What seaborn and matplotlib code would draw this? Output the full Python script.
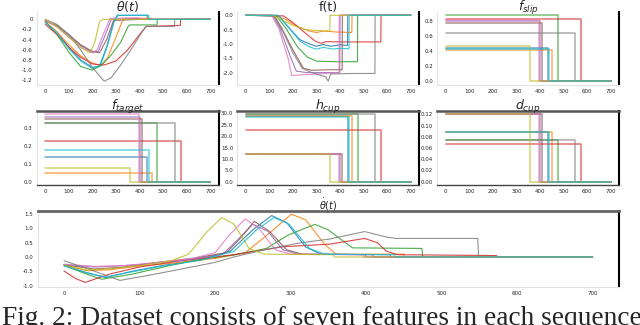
import matplotlib
matplotlib.use("Agg")
import pandas as pd
import matplotlib.pyplot as plt
import seaborn as sns

# sequence colours, in plotting order (tab10)
seq_names = ["blue", "orange", "green", "red", "purple",
             "brown", "pink", "gray", "olive", "cyan"]
# last time step of each sequence, padded with zeros up to 700
seq_end = [433, 451, 475, 574, 400, 410, 397, 549, 358, 439]
pad_end = 700

# constant features of each sequence
f_slip = [0.44, 0.41, 0.87, 0.82, 0.79, 0.77, 0.81, 0.63, 0.47, 0.43]
f_target = [0.135, 0.049, 0.324, 0.224, 0.36, 0.349, 0.373, 0.327, 0.073, 0.176]
h_cup = [28.7, 29.0, 29.6, 22.7, 12.0, 12.0, 12.0, 29.6, 12.0, 28.6]
d_cup = [0.088, 0.088, 0.075, 0.067, 0.12, 0.12, 0.12, 0.075, 0.12, 0.088]

# theta(t), (time, value)
theta = {
    "blue": [(0, -0.05), (50, -0.25), (100, -0.55), (150, -0.8), (200, -0.95), (230, -0.92),
             (260, -0.55), (290, -0.05), (305, 0.08), (432, 0.08)],
    "orange": [(0, -0.05), (50, -0.25), (100, -0.5), (150, -0.72), (200, -0.86), (235, -0.92),
               (265, -0.75), (300, -0.35), (325, -0.05), (340, 0.02), (450, 0.02)],
    "green": [(0, -0.05), (50, -0.3), (100, -0.65), (150, -0.93), (200, -1.0), (240, -0.9),
              (280, -0.7), (320, -0.45), (350, -0.15), (360, -0.11), (474, -0.11)],
    "red": [(0, -0.1), (50, -0.3), (100, -0.55), (150, -0.75), (200, -0.88), (250, -0.9),
            (300, -0.82), (350, -0.6), (400, -0.3), (428, -0.14), (573, -0.12)],
    "purple": [(0, -0.03), (50, -0.14), (100, -0.33), (150, -0.52), (200, -0.65), (225, -0.63),
               (255, -0.3), (280, 0.0), (399, 0.02)],
    "brown": [(0, -0.03), (50, -0.12), (100, -0.3), (150, -0.5), (200, -0.63), (230, -0.66),
              (260, -0.4), (290, -0.02), (409, 0.0)],
    "pink": [(0, -0.02), (50, -0.15), (100, -0.35), (150, -0.55), (200, -0.66), (220, -0.6),
             (250, -0.25), (275, 0.02), (396, 0.03)],
    "gray": [(0, 0.0), (50, -0.1), (100, -0.3), (150, -0.6), (200, -0.95), (250, -1.22),
             (280, -1.15), (320, -0.9), (370, -0.55), (410, -0.25), (428, -0.14), (548, -0.14)],
    "olive": [(0, 0.0), (50, -0.15), (100, -0.35), (150, -0.55), (190, -0.66), (210, -0.45),
              (230, -0.05), (245, 0.0), (357, 0.0)],
    "cyan": [(0, -0.06), (50, -0.28), (100, -0.58), (150, -0.82), (200, -0.97), (235, -0.9),
             (265, -0.5), (295, 0.0), (310, 0.08), (438, 0.08)],
}

# f(t)
force = {
    "blue": [(0, 0), (140, -0.02), (180, -0.4), (230, -0.85), (270, -1.0), (300, -1.08),
             (330, -1.02), (360, -1.08), (400, -1.03), (432, -1.05)],
    "orange": [(0, 0), (130, 0), (170, -0.15), (220, -0.4), (270, -0.55), (300, -0.6),
               (330, -0.55), (380, -0.58), (450, -0.6)],
    "green": [(0, 0), (130, -0.02), (170, -0.45), (220, -1.1), (260, -1.45), (300, -1.6),
              (380, -1.62), (474, -1.62)],
    "red": [(0, 0), (160, -0.02), (200, -0.25), (250, -0.6), (295, -0.9), (320, -0.98),
            (340, -0.92), (400, -0.93), (500, -0.93), (573, -0.93)],
    "purple": [(0, 0), (115, 0), (145, -0.45), (190, -1.45), (215, -1.95), (260, -2.0), (399, -2.0)],
    "brown": [(0, 0), (120, 0), (150, -0.4), (200, -1.2), (245, -1.85), (280, -1.92),
              (350, -1.9), (409, -1.9)],
    "pink": [(0, 0), (110, 0), (140, -0.45), (180, -1.5), (195, -2.1), (230, -2.08),
             (300, -2.05), (396, -2.0)],
    "gray": [(0, 0), (120, -0.02), (160, -0.6), (200, -1.3), (240, -1.85), (280, -2.0),
             (340, -2.15), (350, -2.3), (360, -2.05), (450, -2.03), (548, -2.03)],
    "olive": [(0, 0), (115, 0), (150, -0.15), (200, -0.35), (255, -0.5), (300, -0.53), (357, -0.55)],
    "cyan": [(0, 0), (140, 0), (175, -0.35), (230, -0.9), (270, -1.1), (300, -1.18),
             (330, -1.12), (370, -1.18), (400, -1.15), (438, -1.17)],
}

# theta_dot(t)
theta_dot = {
    "blue": [(0, -0.3), (30, -0.55), (55, -0.72), (90, -0.5), (130, -0.3), (180, -0.1), (220, 0.2),
             (250, 0.95), (275, 1.45), (295, 1.2), (320, 0.35), (340, 0.1), (432, 0.08)],
    "orange": [(0, -0.28), (30, -0.48), (60, -0.45), (100, -0.32), (150, -0.2), (200, -0.05),
               (240, 0.15), (275, 0.9), (301, 1.5), (320, 1.3), (345, 0.45), (360, 0.1), (450, 0.1)],
    "green": [(0, -0.3), (30, -0.6), (50, -0.78), (90, -0.6), (140, -0.3), (177, -0.1), (225, 0.07),
              (268, 0.3), (297, 0.77), (332, 1.14), (350, 0.95), (365, 0.65), (382, 0.32), (474, 0.3)],
    "red": [(0, -0.49), (15, -0.75), (28, -0.89), (60, -0.6), (100, -0.35), (150, -0.15), (225, 0.08),
            (291, 0.36), (352, 0.45), (398, 0.65), (415, 0.5), (427, 0.2), (442, 0.08), (573, 0.05)],
    "purple": [(0, -0.27), (40, -0.35), (80, -0.3), (120, -0.22), (170, -0.08), (210, 0.1),
               (230, 0.6), (250, 1.15), (270, 0.9), (290, 0.25), (310, 0.1), (399, 0.08)],
    "brown": [(0, -0.27), (40, -0.42), (80, -0.35), (120, -0.2), (170, -0.05), (215, 0.15),
              (235, 0.7), (252, 1.25), (272, 0.9), (295, 0.25), (315, 0.1), (409, 0.08)],
    "pink": [(0, -0.25), (40, -0.33), (80, -0.3), (120, -0.2), (170, -0.05), (200, 0.15),
             (220, 0.8), (240, 1.33), (258, 1.0), (280, 0.25), (300, 0.1), (396, 0.08)],
    "gray": [(0, -0.13), (30, -0.4), (74, -0.82), (110, -0.65), (150, -0.45), (198, -0.2),
             (225, 0.0), (268, 0.27), (312, 0.49), (352, 0.63), (398, 0.89), (427, 0.7),
             (440, 0.65), (548, 0.65)],
    "olive": [(0, -0.28), (30, -0.45), (60, -0.42), (100, -0.3), (140, -0.15), (165, 0.1),
              (190, 0.9), (209, 1.38), (225, 1.15), (245, 0.3), (265, 0.1), (357, 0.08)],
    "cyan": [(0, -0.3), (30, -0.55), (55, -0.7), (90, -0.52), (130, -0.32), (180, -0.12),
             (225, 0.2), (255, 0.95), (278, 1.38), (298, 1.15), (325, 0.3), (345, 0.1), (438, 0.08)],
}

x_ticks = [0, 100, 200, 300, 400, 500, 600, 700]


def padded(knots, end):
    """
    Time series of one sequence, padded with zeros after its end
    """
    t = [k[0] for k in knots] + [end, pad_end]
    v = [k[1] for k in knots] + [0.0, 0.0]
    return pd.DataFrame({"t": t, "v": v})


def constant(value, end):
    """
    Constant feature of one sequence, zero after its end
    """
    return pd.DataFrame({"t": [0, end, pad_end], "v": [value, 0.0, 0.0]})


def draw_curves(ax, table, lw=0.8):
    for i, name in enumerate(seq_names):
        df = padded(table[name], seq_end[i])
        sns.lineplot(data=df, x="t", y="v", color=colors[i], lw=lw, alpha=0.85,
                     estimator=None, sort=False, legend=False, ax=ax)


def draw_steps(ax, values):
    for i, name in enumerate(seq_names):
        df = constant(values[i], seq_end[i])
        sns.lineplot(data=df, x="t", y="v", color=colors[i], lw=1.2, alpha=0.6,
                     estimator=None, sort=False, legend=False, drawstyle="steps-post", ax=ax)


def style(ax, title, yticks, ylabels, frame=False, tsize=9):
    ax.set_title(title, fontsize=tsize, pad=1)
    ax.set_xlabel("")
    ax.set_ylabel("")
    ax.set_xticks(x_ticks)
    ax.set_xticklabels([str(x) for x in x_ticks])
    ax.set_yticks(yticks)
    ax.set_yticklabels(ylabels)
    ax.tick_params(labelsize=4, length=2, width=0.5, pad=1, color="#444444")
    for s in ["left", "bottom"]:
        ax.spines[s].set_color("#e3e3e3")
        ax.spines[s].set_linewidth(0.8)
    ax.spines["right"].set_color("black")
    ax.spines["right"].set_linewidth(1.5)
    if frame:
        ax.spines["top"].set_color("#555555")
        ax.spines["top"].set_linewidth(1.8)
        ax.spines["bottom"].set_color("#444444")
        ax.spines["bottom"].set_linewidth(1.0)
    else:
        ax.spines["top"].set_visible(False)


sns.set_theme(style="white")
colors = sns.color_palette("tab10", 10)

W, H = 640, 325
fig = plt.figure(figsize=(6.4, 3.25), dpi=100)

lefts = [37, 237.4, 437.4]
wid = 181.6


def box(left, top, bottom, width=wid):
    return [left / W, 1 - bottom / H, width / W, (bottom - top) / H]


# first row
ax1 = fig.add_axes(box(lefts[0], 12, 84.5))
draw_curves(ax1, theta)
style(ax1, r"$\theta(t)$", [0, -0.2, -0.4, -0.6, -0.8, -1.0, -1.2],
      ["0", "-0.2", "-0.4", "-0.6", "-0.8", "-1.0", "-1.2"])

ax2 = fig.add_axes(box(lefts[1], 12, 84.5))
draw_curves(ax2, force)
style(ax2, "f(t)", [0, -0.5, -1.0, -1.5, -2.0], ["0.0", "-0.5", "-1.0", "-1.5", "-2.0"])

ax3 = fig.add_axes(box(lefts[2], 12, 84.5))
draw_steps(ax3, f_slip)
style(ax3, r"$f_{slip}$", [0, 0.2, 0.4, 0.6, 0.8], ["0.0", "0.2", "0.4", "0.6", "0.8"])

# second row
ax4 = fig.add_axes(box(lefts[0], 111, 185))
draw_steps(ax4, f_target)
style(ax4, r"$f_{target}$", [0, 0.1, 0.2, 0.3], ["0.0", "0.1", "0.2", "0.3"], frame=True)

ax5 = fig.add_axes(box(lefts[1], 111, 185))
draw_steps(ax5, h_cup)
style(ax5, r"$h_{cup}$", [0, 5, 10, 15, 20, 25, 30],
      ["0.0", "5.0", "10.0", "15.0", "20.0", "25.0", "30.0"], frame=True)

ax6 = fig.add_axes(box(lefts[2], 111, 185))
draw_steps(ax6, d_cup)
style(ax6, r"$d_{cup}$", [0, 0.02, 0.04, 0.06, 0.08, 0.10, 0.12],
      ["0.00", "0.02", "0.04", "0.06", "0.08", "0.10", "0.12"], frame=True)

# bottom row, full width
ax7 = fig.add_axes(box(37.6, 211, 287, width=581.4))
draw_curves(ax7, theta_dot, lw=0.8)
ax7.set_ylim(-1.05, 1.61)
style(ax7, r"$\dot{\theta}(t)$", [-1.0, -0.5, 0.0, 0.5, 1.0, 1.5],
      ["-1.0", "-0.5", "0.0", "0.5", "1.0", "1.5"], tsize=7)
ax7.spines["top"].set_visible(True)
ax7.spines["top"].set_color("#666666")
ax7.spines["top"].set_linewidth(2.0)

# caption under the figure, cut by the bottom edge like the original
fig.text(2 / W, 0.0, "Fig. 2: Dataset consists of seven features in each sequence",
         fontsize=19.7, family="Liberation Serif", va="baseline", ha="left")

plt.savefig("out.png", dpi=100)
